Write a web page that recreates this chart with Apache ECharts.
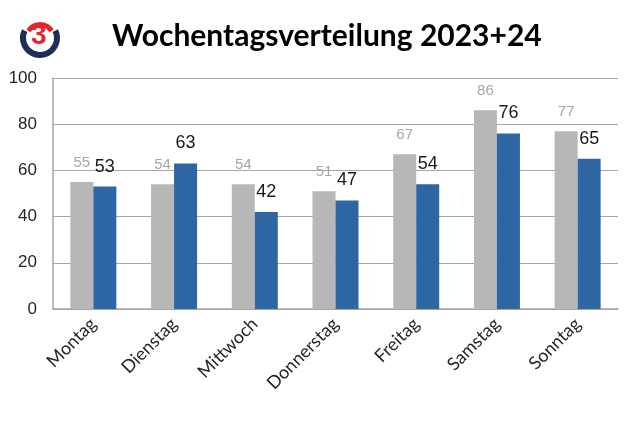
<!DOCTYPE html>
<html>
<head>
<meta charset="utf-8">
<script src="https://cdn.jsdelivr.net/npm/echarts@6/dist/echarts.min.js"></script>
<style>
html,body{margin:0;padding:0;background:#fff;}
#chart{width:640px;height:422px;}
</style>
</head>
<body>
<div id="chart"></div>
<script>
const categories = ['Montag','Dienstag','Mittwoch','Donnerstag','Freitag','Samstag','Sonntag'];
const values2023 = [55, 54, 54, 51, 67, 86, 77];
const values2024 = [53, 63, 42, 47, 54, 76, 65];
const titleText = 'Wochentagsverteilung 2023+24';

const chart = echarts.init(document.getElementById('chart'), null, {renderer:'canvas'});
chart.setOption({
  backgroundColor: '#ffffff',
  animation: false,
  title: {
    text: titleText,
    left: 107, top: 16,
    textStyle: {fontFamily: 'Lato', fontWeight: 'bold', fontSize: 30, color: '#000'}
  },
  graphic: [
    {type:'sector', shape:{cx:40, cy:38, r:20, r0:14, startAngle:-0.45, endAngle:Math.PI+0.45, clockwise:true}, style:{fill:'#1f2d5a'}},
    {type:'sector', shape:{cx:40, cy:38, r:16, r0:11, startAngle:Math.PI+0.55, endAngle:2*Math.PI-0.55, clockwise:true}, style:{fill:'#e3262d'}},
    {type:'text', left: 31, top: 22, style:{text:'3', fill:'#e3262d', font:'bold 28px "Liberation Sans"'}}
  ],
  grid: {left: 53, right: 22, top: 78, bottom: 113},
  xAxis: {
    type: 'category',
    data: categories,
    axisLine: {show:true, lineStyle:{color:'#a6a6a6', width:1.5}},
    axisTick: {show:false},
    axisLabel: {rotate:45, margin:12, fontFamily:'Lato', fontSize:18, color:'#262626'}
  },
  yAxis: {
    type: 'value',
    min: 0, max: 100, interval: 20,
    axisLine: {show:true, lineStyle:{color:'#a6a6a6', width:1.5}},
    axisTick: {show:false},
    splitLine: {lineStyle:{color:'#a6a6a6', width:1.2}},
    axisLabel: {margin:16, fontFamily:'Liberation Sans', fontSize:17, color:'#262626'}
  },
  series: [
    {
      type:'bar', name:'2023', data: values2023,
      barWidth: 23, barGap: '0%',
      itemStyle:{color:'#b7b7b7'},
      label:{show:true, position:'top', distance:12, fontFamily:'Liberation Sans', fontSize:15, color:'#a6a6a6'}
    },
    {
      type:'bar', name:'2024', data: values2024,
      barWidth: 23,
      itemStyle:{color:'#2e66a4'},
      label:{show:true, position:'top', distance:11, fontFamily:'Liberation Sans', fontSize:18, color:'#1a1a1a'}
    }
  ]
});
</script>
</body>
</html>
